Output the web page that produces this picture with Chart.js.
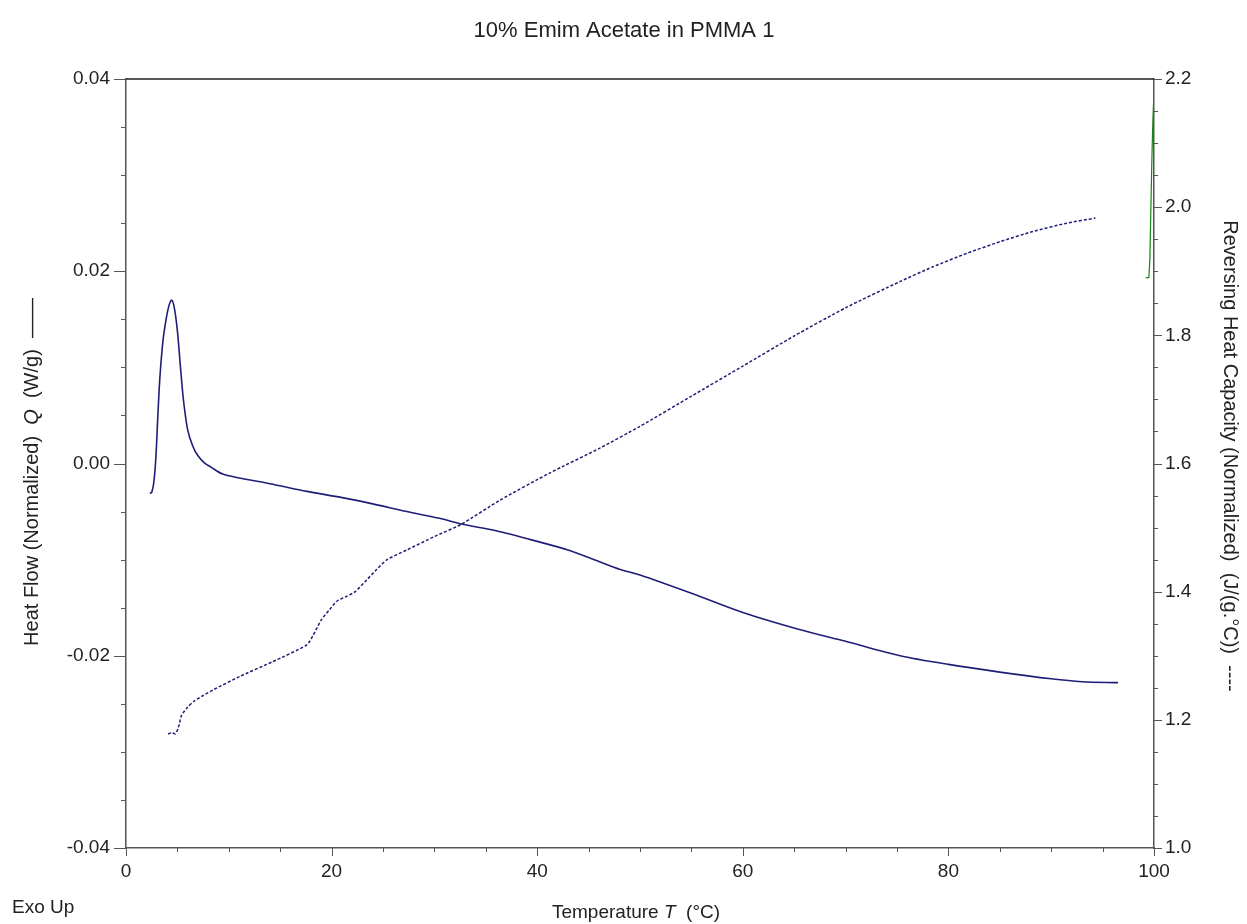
<!DOCTYPE html>
<html>
<head>
<meta charset="utf-8">
<script src="https://cdn.jsdelivr.net/npm/chart.js@4.4.0/dist/chart.umd.min.js"></script>
<style>
  html, body { margin: 0; padding: 0; background: #fff; }
  #wrap { width: 1247px; height: 924px; }
</style>
</head>
<body>
<div id="wrap"><canvas id="dscChart"></canvas></div>
<script>
// heat flow (left axis), W/g
const heatFlowT = [2.3, 2.5, 2.7, 2.9, 3.1, 3.3, 3.6, 3.9, 4.2, 4.45, 4.7, 5.0, 5.3, 5.6, 6.0, 6.5, 7.0, 7.6, 8.3, 9.4,
  11, 14, 17.6, 20.8, 24, 27.3, 30.5, 32.6, 36, 40, 43, 46, 48, 50, 55, 60, 65.6, 70, 75.3, 80, 85, 90, 93, 96.5];
const heatFlowQ = [-0.0031, -0.0030, -0.0020, 0.0005, 0.0050, 0.0090, 0.0128, 0.0150, 0.0165, 0.0170, 0.0162, 0.0138,
  0.0100, 0.0065, 0.0035, 0.0018, 0.0008, 0.0001, -0.0004, -0.0011, -0.0015, -0.0021, -0.0029, -0.0035, -0.0042,
  -0.0050, -0.0057, -0.0063, -0.0070, -0.0081, -0.0090, -0.0102, -0.0110, -0.0116, -0.0135, -0.0155, -0.0173,
  -0.0185, -0.0200, -0.0209, -0.0217, -0.0224, -0.0227, -0.0228];

// reversing heat capacity (right axis), J/(g.°C)
const revCpT = [4.1, 4.5, 4.8, 5.1, 5.4, 6.0, 6.6, 7.5, 8.5, 11.1, 14.3, 17.6, 18.2, 19.0, 19.8, 20.5, 21.5, 22.3,
  23.4, 24.4, 25.4, 27.3, 30, 32.6, 36.4, 41.2, 46.1, 50, 55, 60, 65, 70, 75.3, 78.5, 81.8, 85, 88.2, 91.5, 94.3];
const revCpVal = [1.178, 1.180, 1.178, 1.188, 1.207, 1.220, 1.229, 1.238, 1.247, 1.268, 1.291, 1.317, 1.332, 1.356,
  1.372, 1.385, 1.393, 1.400, 1.418, 1.435, 1.450, 1.465, 1.486, 1.505, 1.543, 1.585, 1.624, 1.658, 1.705, 1.752,
  1.799, 1.843, 1.884, 1.907, 1.928, 1.946, 1.962, 1.975, 1.983];

// short green trace at the right edge (right axis)
const greenT = [99.2, 99.5, 99.6, 99.7, 99.8, 99.9, 100];
const greenVal = [1.89, 1.89, 1.92, 2.00, 2.08, 2.14, 2.18];

const xTicks = [0, 20, 40, 60, 80, 100];
const leftTicks = [0.04, 0.02, 0.00, -0.02, -0.04];
const rightTicks = [2.2, 2.0, 1.8, 1.6, 1.4, 1.2, 1.0];

const FONT = "'Liberation Sans', Arial, sans-serif";
const toXY = (xs, ys) => xs.map((x, i) => ({ x: x, y: ys[i] }));

function richText(ctx, parts, cx, cy, size) {
  let total = 0;
  parts.forEach(p => {
    ctx.font = (p.italic ? 'italic ' : '') + size + 'px ' + FONT;
    p.w = ctx.measureText(p.t).width;
    total += p.w;
  });
  let x = cx - total / 2;
  parts.forEach(p => {
    ctx.font = (p.italic ? 'italic ' : '') + size + 'px ' + FONT;
    ctx.fillText(p.t, x, cy);
    x += p.w;
  });
}

const decorations = {
  id: 'decorations',
  afterDraw(chart) {
    const ctx = chart.ctx;
    const { x, yLeft, yRight } = chart.scales;
    const area = chart.chartArea;
    ctx.save();

    // top frame line
    ctx.strokeStyle = '#222';
    ctx.lineWidth = 1.5;
    ctx.beginPath();
    ctx.moveTo(area.left, area.top);
    ctx.lineTo(area.right, area.top);
    ctx.stroke();

    // tick marks, outward
    ctx.strokeStyle = '#555';
    ctx.lineWidth = 1;
    const seg = (x1, y1, x2, y2) => { ctx.beginPath(); ctx.moveTo(x1, y1); ctx.lineTo(x2, y2); ctx.stroke(); };
    for (let i = 0; i <= 20; i++) {
      const px = Math.round(x.getPixelForValue(i * 5)) + 0.5;
      seg(px, area.bottom, px, area.bottom + (i % 4 === 0 ? 8 : 4));
    }
    for (let i = -8; i <= 8; i++) {
      const py = Math.round(yLeft.getPixelForValue(i * 0.005)) + 0.5;
      seg(area.left, py, area.left - (i % 4 === 0 ? 12 : 5), py);
    }
    for (let i = 20; i <= 44; i++) {
      const py = Math.round(yRight.getPixelForValue(i * 0.05)) + 0.5;
      seg(area.right, py, area.right + (i % 4 === 0 ? 8 : 4), py);
    }

    // texts
    ctx.fillStyle = '#222';
    ctx.textBaseline = 'middle';
    ctx.textAlign = 'left';
    richText(ctx, [{ t: '10% Emim Acetate in PMMA 1' }], 624, 31, 22);
    richText(ctx, [{ t: 'Temperature ' }, { t: 'T', italic: true }, { t: '  (°C)' }], 636, 913, 19);
    ctx.font = '19px ' + FONT;
    ctx.fillText('Exo Up', 12, 908);

    ctx.save();
    ctx.translate(32, 472);
    ctx.rotate(-Math.PI / 2);
    richText(ctx, [{ t: 'Heat Flow (Normalized)  ' }, { t: 'Q', italic: true }, { t: '  (W/g)  ——' }], 0, 0, 20);
    ctx.restore();

    ctx.save();
    ctx.translate(1230, 456);
    ctx.rotate(Math.PI / 2);
    richText(ctx, [{ t: 'Reversing Heat Capacity (Normalized)  (J/(g.°C))  ----' }], 0, 0, 20);
    ctx.restore();

    ctx.restore();
  }
};

const tickFont = { family: FONT, size: 19 };

new Chart(document.getElementById('dscChart'), {
  type: 'scatter',
  data: {
    datasets: [
      {
        label: 'Heat Flow',
        data: toXY(heatFlowT, heatFlowQ),
        yAxisID: 'yLeft',
        showLine: true,
        borderColor: '#1e1e78',
        borderWidth: 1.6,
        pointRadius: 0,
        tension: 0.3
      },
      {
        label: 'Reversing Heat Capacity',
        data: toXY(revCpT, revCpVal),
        yAxisID: 'yRight',
        showLine: true,
        borderColor: '#1e1e78',
        borderWidth: 1.5,
        borderDash: [3, 2],
        pointRadius: 0,
        tension: 0.2
      },
      {
        label: 'trace',
        data: toXY(greenT, greenVal),
        yAxisID: 'yRight',
        showLine: true,
        borderColor: '#118811',
        borderWidth: 1.2,
        pointRadius: 0
      }
    ]
  },
  options: {
    responsive: true,
    maintainAspectRatio: false,
    animation: false,
    layout: { padding: { top: 79, left: 0, right: 0, bottom: 0 } },
    plugins: { legend: { display: false }, tooltip: { enabled: false }, title: { display: false } },
    scales: {
      x: {
        type: 'linear',
        position: 'bottom',
        min: 0,
        max: 100,
        afterBuildTicks: s => { s.ticks = xTicks.map(v => ({ value: v })); },
        afterFit: s => { s.height = 76; },
        grid: { display: true, drawOnChartArea: false, drawTicks: false },
        border: { display: true, color: '#555', width: 1.5 },
        ticks: { font: tickFont, color: '#222', padding: 12, maxRotation: 0, autoSkip: false }
      },
      yLeft: {
        type: 'linear',
        position: 'left',
        min: -0.04,
        max: 0.04,
        afterBuildTicks: s => { s.ticks = leftTicks.map(v => ({ value: v })); },
        afterFit: s => { s.width = 126; },
        grid: { display: true, drawOnChartArea: false, drawTicks: false },
        border: { display: true, color: '#555', width: 1.5 },
        ticks: { font: tickFont, color: '#222', padding: 16, autoSkip: false, callback: v => v.toFixed(2) }
      },
      yRight: {
        type: 'linear',
        position: 'right',
        min: 1.0,
        max: 2.2,
        afterBuildTicks: s => { s.ticks = rightTicks.map(v => ({ value: v })); },
        afterFit: s => { s.width = 93; },
        grid: { display: true, drawOnChartArea: false, drawTicks: false },
        border: { display: true, color: '#555', width: 1.5 },
        ticks: { font: tickFont, color: '#222', padding: 11, autoSkip: false, callback: v => v.toFixed(1) }
      }
    }
  },
  plugins: [decorations]
});
</script>
</body>
</html>
